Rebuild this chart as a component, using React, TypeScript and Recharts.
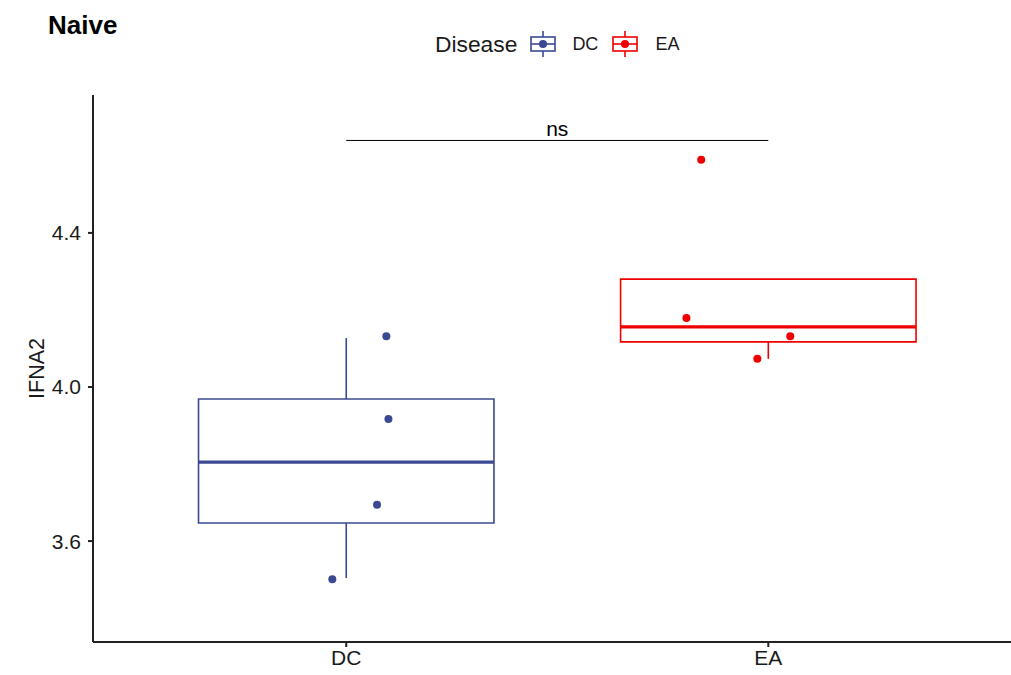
import {
  ComposedChart,
  Scatter,
  XAxis,
  YAxis,
  ReferenceArea,
  ReferenceLine,
} from 'recharts';

const categories = ['DC', 'EA'];
const colors = ['#3B4992', '#EE0000'];

// raw points (value + jittered x position)
const dcValues = [4.132, 3.917, 3.694, 3.501];
const dcJitter = [1.095, 1.1, 1.073, 0.967];
const eaValues = [4.59, 4.179, 4.132, 4.073];
const eaJitter = [1.841, 1.806, 2.052, 1.974];

// box stats: [lowerWhisker, q1, median, q3, upperWhisker]
const dcBox = [3.504, 3.647, 3.805, 3.969, 4.127];
const eaBox = [4.073, 4.117, 4.156, 4.28, 4.28];

const yTicks = [3.6, 4.0, 4.4];
const nsLevel = 4.64;

const boxes = [dcBox, eaBox];
const points = [
  dcValues.map((v, i) => ({ x: dcJitter[i], y: v })),
  eaValues.map((v, i) => ({ x: eaJitter[i], y: v })),
];

const FONT = '"Liberation Sans", Arial, Helvetica, sans-serif';
const HALF = 0.35;

function LegendKey({ color }: { color: string }) {
  return (
    <svg width={28} height={28} style={{ display: 'block' }}>
      <line x1={14} y1={1} x2={14} y2={27} stroke={color} strokeWidth={1.6} />
      <rect x={2} y={7} width={24} height={14} fill="#fff" stroke={color} strokeWidth={1.6} />
      <line x1={2} y1={14} x2={26} y2={14} stroke={color} strokeWidth={1.6} />
      <circle cx={14} cy={14} r={4} fill={color} />
    </svg>
  );
}

export default function App() {
  return (
    <div style={{ position: 'absolute', left: 0, top: 0, width: 1011, height: 675, background: '#fff', fontFamily: FONT }}>
      <div style={{ position: 'absolute', left: 48, top: 10, fontSize: 26, fontWeight: 'bold', color: '#000' }}>Naive</div>
      <div style={{ position: 'absolute', left: 435, top: 30, display: 'flex', alignItems: 'center', color: '#1a1a1a' }}>
        <span style={{ fontSize: 22.8, marginRight: 12 }}>Disease</span>
        <LegendKey color={colors[0]} />
        <span style={{ fontSize: 18, marginLeft: 15, marginRight: 13 }}>DC</span>
        <LegendKey color={colors[1]} />
        <span style={{ fontSize: 18, marginLeft: 16 }}>EA</span>
      </div>
      <ComposedChart
        width={1011}
        height={675}
        margin={{ top: 95, right: 0, left: 0, bottom: 0 }}
        style={{ position: 'absolute', left: 0, top: 0 }}
      >
        <XAxis
          type="number"
          dataKey="x"
          domain={[0.4, 2.575]}
          ticks={[1, 2]}
          tickFormatter={(v: number) => categories[Math.round(v) - 1]}
          allowDataOverflow
          height={33}
          tickSize={5}
          tickMargin={3}
          stroke="#222"
          strokeWidth={2}
          tick={{ fontSize: 21, fill: '#1a1a1a', fontFamily: FONT }}
        />
        <YAxis
          type="number"
          dataKey="y"
          domain={[3.338, 4.758]}
          ticks={yTicks}
          tickFormatter={(v: number) => v.toFixed(1)}
          allowDataOverflow
          width={93}
          tickSize={5}
          tickMargin={7}
          stroke="#222"
          strokeWidth={2}
          tick={{ fontSize: 21, fill: '#1a1a1a', fontFamily: FONT }}
          label={{ value: 'IFNA2', angle: -90, position: 'insideLeft', offset: 36, style: { fontSize: 21.5, fill: '#1a1a1a', fontFamily: FONT, textAnchor: 'middle' } }}
        />
        {boxes.map((b, i) => (
          <ReferenceArea
            key={`box-${i}`}
            x1={i + 1 - HALF}
            x2={i + 1 + HALF}
            y1={b[1]}
            y2={b[3]}
            fill="none"
            fillOpacity={0}
            stroke={colors[i]}
            strokeWidth={1.6}
          />
        ))}
        {boxes.map((b, i) => (
          <ReferenceLine
            key={`lw-${i}`}
            segment={[{ x: i + 1, y: b[0] }, { x: i + 1, y: b[1] }]}
            stroke={colors[i]}
            strokeWidth={1.6}
          />
        ))}
        {boxes.map((b, i) => (
          <ReferenceLine
            key={`uw-${i}`}
            segment={[{ x: i + 1, y: b[3] }, { x: i + 1, y: b[4] }]}
            stroke={colors[i]}
            strokeWidth={1.6}
          />
        ))}
        {boxes.map((b, i) => (
          <ReferenceLine
            key={`med-${i}`}
            segment={[{ x: i + 1 - HALF, y: b[2] }, { x: i + 1 + HALF, y: b[2] }]}
            stroke={colors[i]}
            strokeWidth={3.2}
          />
        ))}
        <ReferenceLine
          segment={[{ x: 1, y: nsLevel }, { x: 2, y: nsLevel }]}
          stroke="#000"
          strokeWidth={1}
          label={{ value: 'ns', position: 'top', offset: 4, style: { fontSize: 21, fill: '#000', fontFamily: FONT } }}
        />
        {points.map((pts, i) => (
          <Scatter
            key={`pts-${i}`}
            data={pts}
            fill={colors[i]}
            isAnimationActive={false}
            shape={(p: any) => <circle cx={p.cx} cy={p.cy} r={4} fill={colors[i]} />}
          />
        ))}
      </ComposedChart>
    </div>
  );
}
